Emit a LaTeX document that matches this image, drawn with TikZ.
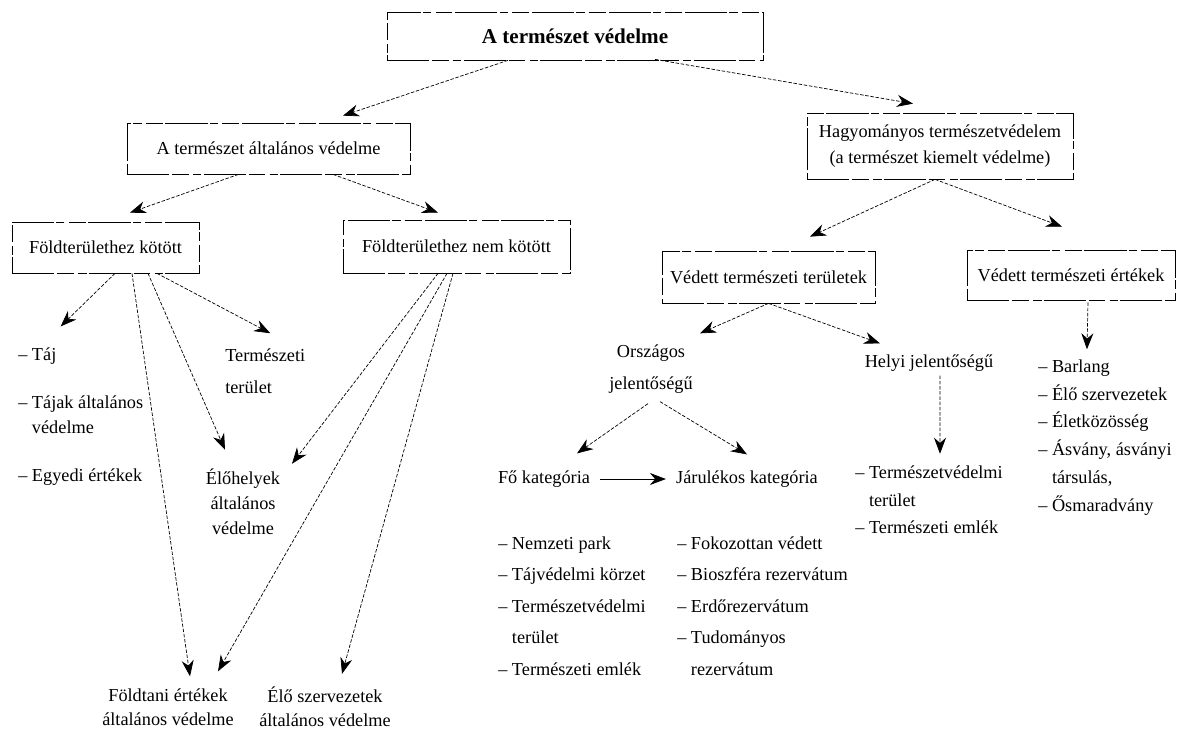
\documentclass[tikz,border=0pt]{standalone}
\usepackage{fontspec}
\setmainfont{Liberation Serif}
\usetikzlibrary {arrows.meta}

\tikzset{
	box/.style={draw,line width=0.5pt,dash pattern=on 30pt off 2pt on 12pt off 3pt on 6pt off 1.5pt,inner sep=0pt,align=center,font=\fontsize{13}{18.5}\selectfont},
	lbl/.style={inner sep=0pt,align=center,font=\fontsize{13}{17.5}\selectfont},
	lst/.style={inner sep=0pt,align=left,anchor=west},
	link/.style={-{Stealth[length=4mm,width=3mm]},line width=0.5pt,dash pattern=on 2.5pt off 1.2pt},
}

\begin{document}
\begin{tikzpicture}[x=0.025cm,y=-0.025cm]
				\useasboundingbox (0,0) rectangle (1178,731);

				\node[box,minimum width=9.4cm,minimum height=1.2cm,font=\fontsize{15}{18}\selectfont\bfseries] (title) at (575,36) {A természet védelme};
				\node[box,minimum width=7.075cm,minimum height=1.275cm] (gen) at (268.5,148.5) {A természet általános védelme};
				\node[box,minimum width=6.65cm,minimum height=1.65cm] (hagy) at (940,146) {Hagyományos természetvédelem\\(a természet kiemelt védelme)};
				\node[box,minimum width=4.675cm,minimum height=1.275cm] (fk) at (105.5,247.5) {Földterülethez kötött};
				\node[box,minimum width=5.675cm,minimum height=1.325cm] (nfk) at (456.5,246.5) {Földterülethez nem kötött};
				\node[box,minimum width=5.325cm,minimum height=1.3cm] (vtt) at (768.5,277) {Védett természeti területek};
				\node[box,minimum width=5.2cm,minimum height=1.25cm] (vte) at (1071,275) {Védett természeti értékek};

				\node[lbl,font=\fontsize{13}{22.8}\selectfont] (orsz) at (651,369) {Országos\\jelentőségű};
				\node[lbl] (helyi) at (929,363) {Helyi jelentőségű};
				\node[lbl,lst,font=\fontsize{13}{22.8}\selectfont] (terul) at (225,371) {Természeti\\terület};
				\node[lbl,lst] (taj) at (18,356) {– Táj};
				\node[lbl,lst,font=\fontsize{13}{17.5}\selectfont] (tajak) at (18,415) {– Tájak általános\\\phantom{– }védelme};
				\node[lbl,lst] (egyedi) at (18,477) {– Egyedi értékek};
				\node[lbl,font=\fontsize{13}{17.8}\selectfont] (eloh) at (243,502) {Élőhelyek\\általános\\védelme};
				\node[lbl,font=\fontsize{13}{17}\selectfont] (foldt) at (168,707) {Földtani értékek\\általános védelme};
				\node[lbl,font=\fontsize{13}{17}\selectfont] (eloszerv) at (325,707) {Élő szervezetek\\általános védelme};
				\node[lbl] (fo) at (544,479) {Fő kategória};
				\node[lbl] (jar) at (747,479) {Járulékos kategória};

				\node[lbl,lst,font=\fontsize{13}{22.4}\selectfont] (focol) at (498,606) {– Nemzeti park\\– Tájvédelmi körzet\\– Természetvédelmi\\\phantom{– }terület\\– Természeti emlék};
				\node[lbl,lst,font=\fontsize{13}{22.4}\selectfont] (jarcol) at (677,606) {– Fokozottan védett\\– Bioszféra rezervátum\\– Erdőrezervátum\\– Tudományos\\\phantom{– }rezervátum};
				\node[lbl,lst,font=\fontsize{13}{19.6}\selectfont] (helyicol) at (855,500) {– Természetvédelmi\\\phantom{– }terület\\– Természeti emlék};
				\node[lbl,lst,font=\fontsize{13}{19.8}\selectfont] (vtecol) at (1038,437.5) {– Barlang\\– Élő szervezetek\\– Életközösség\\– Ásvány, ásványi\\\phantom{– }társulás,\\– Ősmaradvány};

				\draw[link] ([shift={(-67,0)}]title.south) -- ([shift={(74.5,-7)}]gen.north);
				\draw[link] ([shift={(80,-1)}]title.south) -- ([shift={(-27,-9)}]hagy.north);
				\draw[link] ([shift={(-30,0)}]gen.south) -- ([shift={(24.5,-9)}]fk.north);
				\draw[link] ([shift={(64.5,0)}]gen.south) -- ([shift={(-18.5,-7)}]nfk.north);
				\draw[link] ([shift={(-5,0)}]hagy.south) -- ([shift={(41.5,-14)}]vtt.north);
				\draw[link] ([shift={(-5,0)}]hagy.south) -- ([shift={(-9,-23)}]vte.north);

				\draw[link] ([shift={(9.5,0)}]fk.south) -- ([shift={(4,-21)}]taj.north east);
				\draw[link] ([shift={(26.5,0)}]fk.south) -- ([shift={(22,-12)}]foldt.north);
				\draw[link] ([shift={(42.5,0)}]fk.south) -- ([shift={(-18,-19)}]eloh.north);
				\draw[link] ([shift={(51.5,0)}]fk.south) -- ([shift={(5,-15)}]terul.north);
				\draw[link] ([shift={(-18.5,0)}]nfk.south) -- ([shift={(49,-5)}]eloh.north);
				\draw[link] ([shift={(-9.5,0)}]nfk.south) -- ([shift={(50,-17)}]foldt.north);
				\draw[link] ([shift={(-3.5,0)}]nfk.south) -- ([shift={(17,-13)}]eloszerv.north);

				\draw[link] (vtt.south) -- ([shift={(49,-11)}]orsz.north);
				\draw[link] (vtt.south) -- ([shift={(-49,-11)}]helyi.north);
				\draw[link] ([shift={(-3,10)}]orsz.south) -- ([shift={(33,-17)}]fo.north);
				\draw[link] ([shift={(9,8)}]orsz.south) -- ([shift={(0,-16)}]jar.north);
				\draw[link,solid] ([shift={(10,0)}]fo.east) -- ([shift={(-10,0)}]jar.west);
				\draw[link] ([shift={(11,4)}]helyi.south) -- ([shift={(11,-12)}]helyicol.north);
				\draw[link] ([shift={(17,2)}]vte.south) -- ([shift={(-18,-10)}]vtecol.north);
			\end{tikzpicture}
\end{document}
